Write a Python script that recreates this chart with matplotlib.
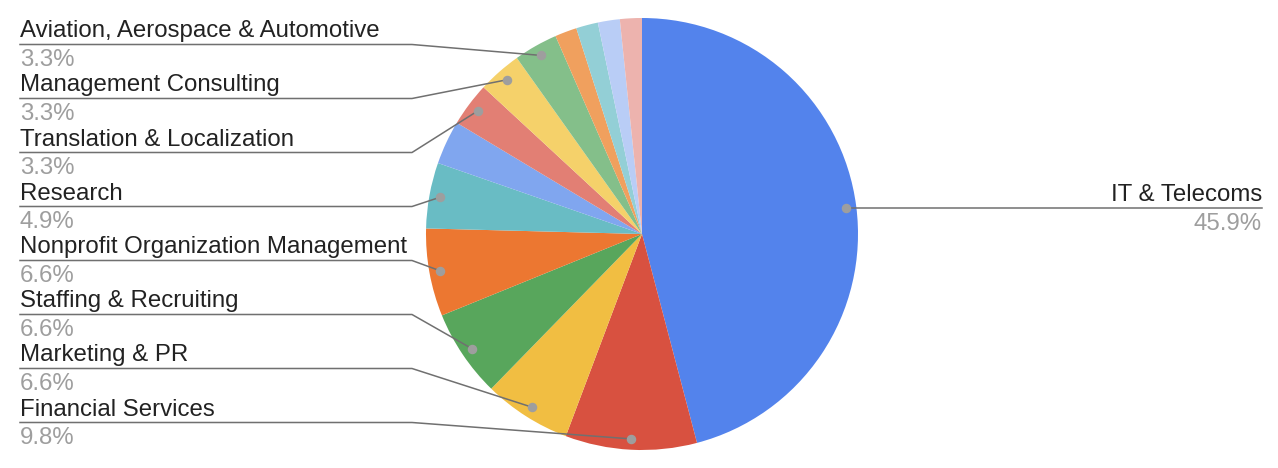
"""
Pie chart: industries, labels with leader lines (Google Charts style).
"""
import numpy as np
import matplotlib
matplotlib.use("Agg")
import matplotlib.pyplot as plt

# Datos (orden horario desde arriba)
categories = [
    "IT & Telecoms", "Financial Services", "Marketing & PR",
    "Staffing & Recruiting", "Nonprofit Organization Management", "Research",
    "", "Translation & Localization", "Management Consulting",
    "Aviation, Aerospace & Automotive", "", "", "", "",
]
counts = [28, 6, 4, 4, 4, 3, 2, 2, 2, 2, 1, 1, 1, 1]
colors = [
    "#5383EC", "#D85140", "#F1BE42", "#58A65C", "#EC7731", "#69BCC4",
    "#80A6EF", "#E27F74", "#F5D16A", "#84BF8A", "#F0A05E", "#93CFD6",
    "#B9CDF6", "#EDB3AE",
]
# etiquetas de la izquierda, de arriba a abajo
left_order = [
    "Aviation, Aerospace & Automotive", "Management Consulting",
    "Translation & Localization", "Research",
    "Nonprofit Organization Management", "Staffing & Recruiting",
    "Marketing & PR", "Financial Services",
]

W, H = 1278, 468
CX, CY, R = 642, H - 234, 216
LINE_COLOR = "#707070"
DOT_COLOR = "#9E9E9E"
FONT = "Liberation Sans"
FS = 17.3

fig = plt.figure(figsize=(W / 100, H / 100), dpi=100)
ax = fig.add_axes([0, 0, 1, 1])
ax.set_xlim(0, W)
ax.set_ylim(0, H)
ax.set_aspect("equal")
ax.axis("off")

wedges, _ = ax.pie(counts, colors=colors, startangle=90, counterclock=False,
                   center=(CX, CY), radius=R, wedgeprops={"linewidth": 0})
ax.set_xlim(0, W)
ax.set_ylim(0, H)

total = sum(counts)


def dot_pos(w, frac=0.95):
    mid = np.deg2rad((w.theta1 + w.theta2) / 2)
    return CX + frac * R * np.cos(mid), CY + frac * R * np.sin(mid)


def draw_label(x_text, y_line, name, pct, ha):
    ax.text(x_text, y_line + 7, name, ha=ha, va="baseline", fontsize=FS,
            family=FONT, color="#222222")
    ax.text(x_text, y_line - 22, pct, ha=ha, va="baseline", fontsize=FS,
            family=FONT, color="#9E9E9E")


# IT & Telecoms a la derecha
w0 = wedges[0]
dx, dy = dot_pos(w0)
ax.plot([dx, 1262], [dy, dy], color=LINE_COLOR, lw=1.1, zorder=3)
ax.scatter([dx], [dy], s=34, color=DOT_COLOR, zorder=4)
draw_label(1262, dy, categories[0], f"{counts[0] / total * 100:.1f}%", "right")

# etiquetas de la izquierda
for i, name in enumerate(left_order):
    k = categories.index(name)
    y_line = H - (44.5 + 54 * i)
    dx, dy = dot_pos(wedges[k])
    ax.plot([20, 412, dx], [y_line, y_line, dy], color=LINE_COLOR, lw=1.1,
            zorder=3)
    ax.scatter([dx], [dy], s=34, color=DOT_COLOR, zorder=4)
    draw_label(20, y_line, name, f"{counts[k] / total * 100:.1f}%", "left")

fig.savefig("out.png", dpi=100)
